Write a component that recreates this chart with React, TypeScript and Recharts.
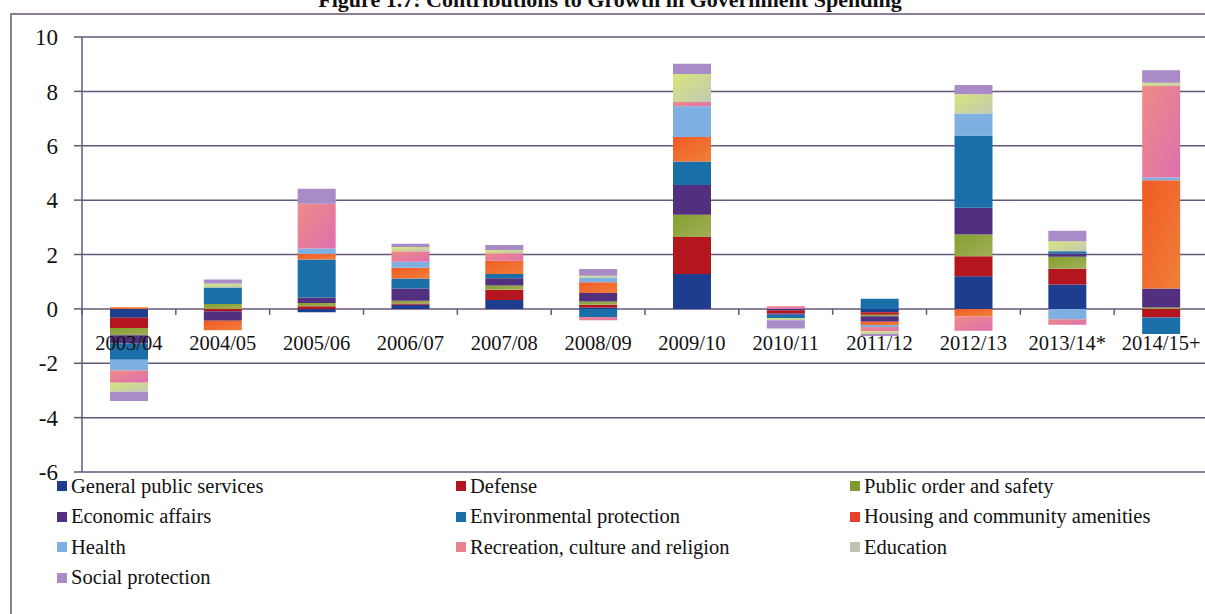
import React from "react";
import {
	BarChart,
	Bar,
	XAxis,
	YAxis,
	CartesianGrid,
} from "recharts";

const years = [
	"2003/04",
	"2004/05",
	"2005/06",
	"2006/07",
	"2007/08",
	"2008/09",
	"2009/10",
	"2010/11",
	"2011/12",
	"2012/13",
	"2013/14*",
	"2014/15+",
];

// contribution of each spending function, percentage points
const generalPublic = [-0.33, 0, -0.12, 0.15, 0.33, 0.05, 1.28, -0.05, -0.12, 1.2, 0.9, 0];
const defense = [-0.37, -0.09, 0.1, 0.05, 0.37, 0.1, 1.36, -0.12, -0.1, 0.74, 0.58, -0.32];
const publicOrder = [-0.27, 0.18, 0.12, 0.1, 0.16, 0.12, 0.82, 0, -0.05, 0.8, 0.44, 0.05];
const economic = [-0.3, -0.35, 0.2, 0.45, 0.27, 0.31, 1.1, -0.05, -0.2, 0.98, 0.12, 0.7];
const environmental = [-0.6, 0.61, 1.4, 0.37, 0.15, -0.3, 0.86, -0.12, 0.37, 2.66, 0.08, -0.6];
const housing = [0.06, -0.35, 0.2, 0.39, 0.49, 0.4, 0.9, 0, -0.12, -0.28, 0, 3.98];
const health = [-0.4, 0, 0.2, 0.22, 0, 0.17, 1.13, 0, -0.08, 0.81, -0.38, 0.1];
const recreation = [-0.45, 0, 1.65, 0.39, 0.28, -0.12, 0.16, 0.1, -0.15, -0.52, -0.2, 3.37];
const education = [-0.33, 0.14, 0, 0.16, 0.12, 0.07, 1.03, -0.08, -0.1, 0.7, 0.37, 0.12];
const social = [-0.34, 0.15, 0.55, 0.12, 0.18, 0.25, 0.38, -0.3, -0.08, 0.34, 0.38, 0.46];

const yTicks = [-6, -4, -2, 0, 2, 4, 6, 8, 10];

type Series = {
	key: string;
	name: string;
	values: number[];
	color: string;
	fill: string;
};

const series: Series[] = [
	{ key: "general", name: "General public services", values: generalPublic, color: "#1E3D8F", fill: "#1E3D8F" },
	{ key: "defense", name: "Defense", values: defense, color: "#B3161F", fill: "#B3161F" },
	{ key: "order", name: "Public order and safety", values: publicOrder, color: "#7E9A2E", fill: "url(#gOrder)" },
	{ key: "economic", name: "Economic affairs", values: economic, color: "#52307F", fill: "#52307F" },
	{ key: "environment", name: "Environmental protection", values: environmental, color: "#1A6FA8", fill: "#1A6FA8" },
	{ key: "housing", name: "Housing and community amenities", values: housing, color: "#E8402A", fill: "url(#gHousing)" },
	{ key: "health", name: "Health", values: health, color: "#7FB0E2", fill: "#7FB0E2" },
	{ key: "recreation", name: "Recreation, culture and religion", values: recreation, color: "#E8828E", fill: "url(#gRecreation)" },
	{ key: "education", name: "Education", values: education, color: "#BFC4B2", fill: "url(#gEducation)" },
	{ key: "social", name: "Social protection", values: social, color: "#A98BC8", fill: "#A98BC8" },
];

const rows = years.map((year, i) => {
	const row: Record<string, string | number> = { year };
	series.forEach((s) => {
		row[s.key] = s.values[i];
	});
	return row;
});

const WIDTH = 1212;
const HEIGHT = 614;
const TOP = 37;
const X_AXIS_H = 20;
const BOTTOM = 122;
const LEFT = 82;
const RIGHT = 4;
const Y_MIN = -6;
const Y_MAX = 10;
const plotBottom = HEIGHT - BOTTOM - X_AXIS_H;
const zeroY = TOP + ((plotBottom - TOP) * Y_MAX) / (Y_MAX - Y_MIN);
const band = (WIDTH - LEFT - RIGHT) / years.length;

const FONT = "'Liberation Serif', 'Times New Roman', serif";
const GRID = "#66567A";

// category labels sit under the zero line, with boundary ticks on it
const YearTick = (props: any) => {
	const { x, payload } = props;
	const left = x - band / 2;
	return (
		<g>
			<line x1={left} x2={left} y1={zeroY} y2={zeroY + 6} stroke={GRID} strokeWidth={1.5} />
			<text x={x} y={zeroY + 41} textAnchor="middle" fontSize={20.5} fontFamily={FONT} fill="#111">
				{payload.value}
			</text>
		</g>
	);
};

const LegendGrid = () => (
	<div
		style={{
			position: "absolute",
			left: 57,
			top: 471,
			display: "grid",
			gridTemplateColumns: "399px 394px 340px",
			fontFamily: FONT,
			fontSize: 20.5,
			color: "#111",
		}}
	>
		{series.map((s) => (
			<div key={s.key} style={{ display: "flex", alignItems: "center", height: 30.5 }}>
				<span style={{ width: 10, height: 10, background: s.color, marginRight: 4, display: "inline-block" }} />
				<span>{s.name}</span>
			</div>
		))}
	</div>
);

export default function App() {
	return (
		<div style={{ position: "absolute", left: 0, top: 0, width: 1205, height: HEIGHT, overflow: "hidden", background: "#fff" }}>
			<svg width={0} height={0} style={{ position: "absolute" }}>
				<defs>
					<linearGradient id="gRecreation" x1="0" y1="0" x2="1" y2="1">
						<stop offset="0%" stopColor="#EE8C86" />
						<stop offset="100%" stopColor="#DE6FAE" />
					</linearGradient>
					<linearGradient id="gEducation" x1="0" y1="0" x2="1" y2="1">
						<stop offset="0%" stopColor="#D7E67A" />
						<stop offset="100%" stopColor="#C3C8B4" />
					</linearGradient>
					<linearGradient id="gOrder" x1="0" y1="0" x2="1" y2="1">
						<stop offset="0%" stopColor="#83A02C" />
						<stop offset="100%" stopColor="#A2AE5A" />
					</linearGradient>
					<linearGradient id="gHousing" x1="0" y1="0" x2="1" y2="1">
						<stop offset="0%" stopColor="#F05A24" />
						<stop offset="100%" stopColor="#F0803A" />
					</linearGradient>
				</defs>
			</svg>
			<div
				style={{
					position: "absolute",
					left: 0,
					top: -13,
					width: 1220,
					textAlign: "center",
					fontFamily: FONT,
					fontWeight: "bold",
					fontSize: 22,
					color: "#111",
				}}
			>
				Figure 1.7: Contributions to Growth in Government Spending
			</div>
			<div
				style={{
					position: "absolute",
					left: 10,
					top: 13,
					width: 1300,
					height: 700,
					borderLeft: "2px solid #8C7C96",
					borderTop: "2px solid #8C7C96",
				}}
			/>
			<div style={{ position: "absolute", left: 0, top: 0 }}>
				<BarChart
					width={WIDTH}
					height={HEIGHT}
					data={rows}
					stackOffset="sign"
					barSize={38}
					margin={{ top: TOP, right: RIGHT, bottom: BOTTOM, left: 0 }}
				>
					<CartesianGrid vertical={false} stroke={GRID} strokeWidth={1.5} />
					{series.map((s) => (
						<Bar key={s.key} dataKey={s.key} name={s.name} stackId="a" fill={s.fill} isAnimationActive={false} />
					))}
					<XAxis
						dataKey="year"
						height={X_AXIS_H}
						axisLine={false}
						tickLine={false}
						interval={0}
						tick={<YearTick />}
					/>
					<YAxis
						width={LEFT}
						domain={[Y_MIN, Y_MAX]}
						ticks={yTicks}
						interval={0}
						axisLine={{ stroke: GRID, strokeWidth: 1.5 }}
						tickLine={{ stroke: GRID, strokeWidth: 1.5 }}
						tickSize={8}
						tickMargin={16}
						tick={{ fontSize: 23, fontFamily: FONT, fill: "#111" }}
					/>
				</BarChart>
			</div>
			<LegendGrid />
		</div>
	);
}
